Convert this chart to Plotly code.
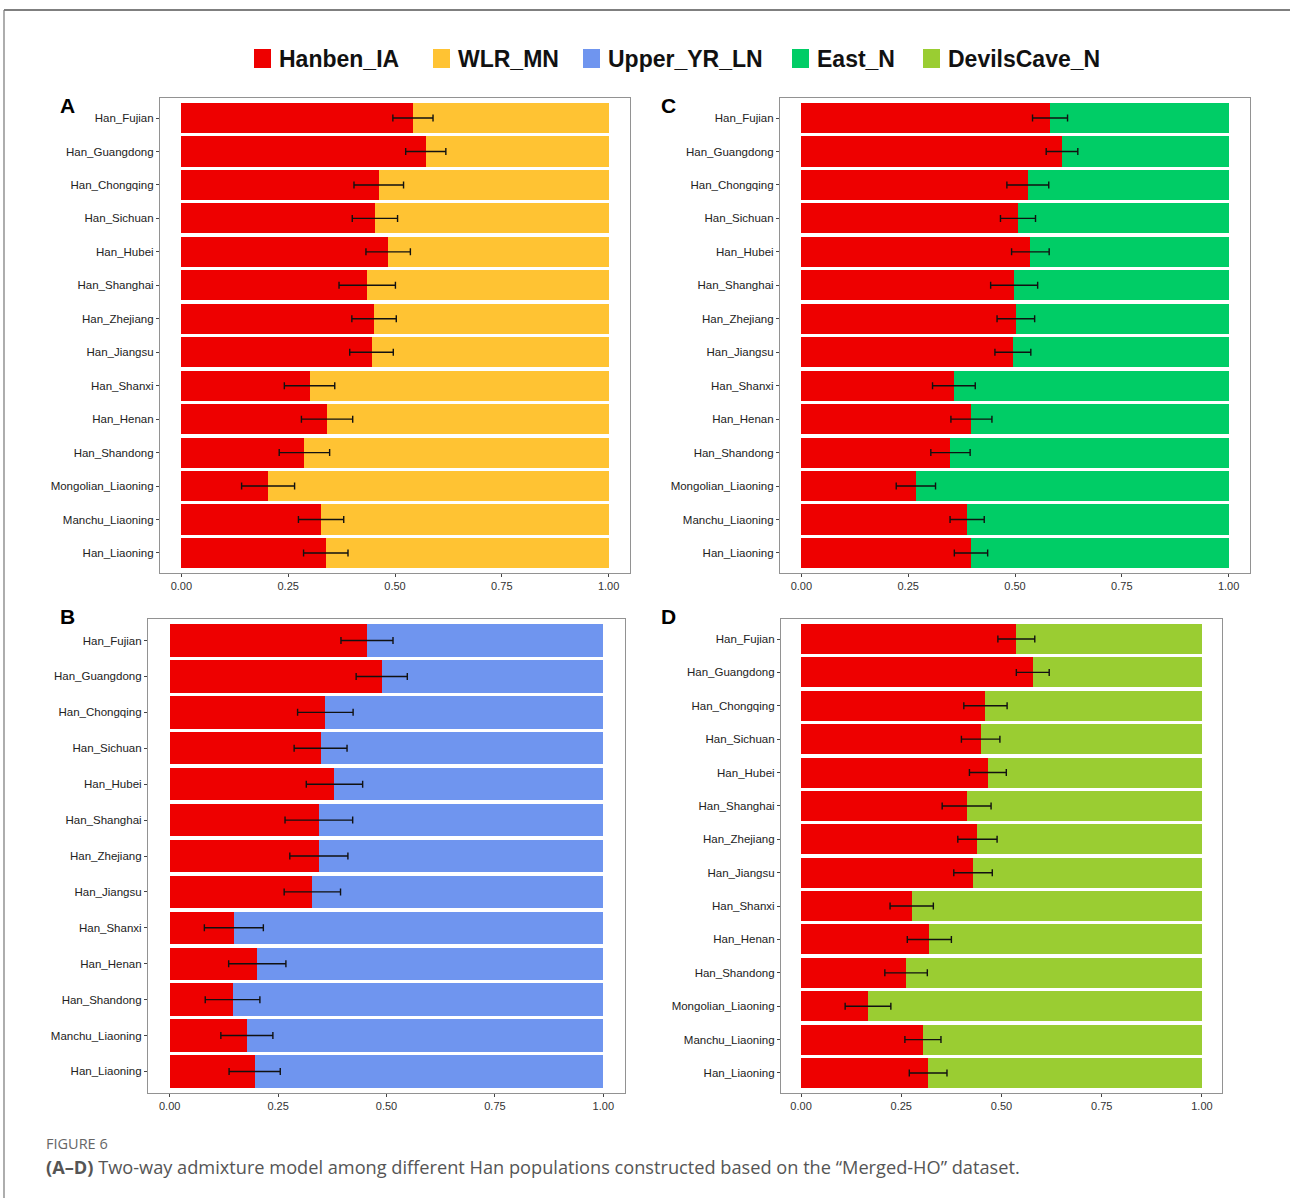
import plotly.graph_objects as go

# ---- data -------------------------------------------------------------
populations = [
    "Han_Fujian", "Han_Guangdong", "Han_Chongqing", "Han_Sichuan", "Han_Hubei",
    "Han_Shanghai", "Han_Zhejiang", "Han_Jiangsu", "Han_Shanxi", "Han_Henan",
    "Han_Shandong", "Mongolian_Liaoning", "Manchu_Liaoning", "Han_Liaoning",
]
populations_b = [p for p in populations if p != "Mongolian_Liaoning"]

# Hanben_IA proportion and standard error, model A: Hanben_IA + WLR_MN
hanben_a = [0.542, 0.572, 0.462, 0.453, 0.484, 0.435, 0.451, 0.445, 0.300, 0.341, 0.288, 0.203, 0.327, 0.338]
se_a = [0.047, 0.047, 0.058, 0.053, 0.052, 0.066, 0.052, 0.051, 0.059, 0.060, 0.059, 0.062, 0.053, 0.052]

# model B: Hanben_IA + Upper_YR_LN (no Mongolian_Liaoning)
hanben_b = [0.455, 0.489, 0.359, 0.348, 0.380, 0.344, 0.344, 0.329, 0.148, 0.202, 0.145, 0.178, 0.196]
se_b = [0.060, 0.059, 0.064, 0.061, 0.065, 0.078, 0.067, 0.065, 0.068, 0.066, 0.063, 0.060, 0.059]

# model C: Hanben_IA + East_N
hanben_c = [0.582, 0.610, 0.530, 0.507, 0.536, 0.498, 0.502, 0.495, 0.357, 0.398, 0.349, 0.268, 0.388, 0.397]
se_c = [0.041, 0.037, 0.049, 0.041, 0.044, 0.055, 0.044, 0.042, 0.050, 0.048, 0.046, 0.046, 0.040, 0.039]

# model D: Hanben_IA + DevilsCave_N
hanben_d = [0.537, 0.578, 0.460, 0.448, 0.466, 0.413, 0.440, 0.429, 0.276, 0.320, 0.262, 0.167, 0.304, 0.317]
se_d = [0.046, 0.041, 0.054, 0.048, 0.046, 0.061, 0.049, 0.048, 0.054, 0.055, 0.053, 0.057, 0.045, 0.047]

sources = ["Hanben_IA", "WLR_MN", "Upper_YR_LN", "East_N", "DevilsCave_N"]
source_colors = ["#EE0000", "#FFC333", "#6F95EF", "#00CD66", "#9ACD32"]

x_ticks = [0, 0.25, 0.5, 0.75, 1.0]
x_tick_labels = ["0.00", "0.25", "0.50", "0.75", "1.00"]

# ---- layout geometry (pixels) ----------------------------------------
W, H = 1290, 1198
FONT = "Liberation Sans, Arial, sans-serif"

panels = [
    # letter, categories, hanben, se, second source index, frame (l, t, r, b), letter pos
    ("A", populations, hanben_a, se_a, 1, (160, 98, 630, 573), (67, 106)),
    ("B", populations_b, hanben_b, se_b, 2, (148, 619, 625, 1093), (67, 616)),
    ("C", populations, hanben_c, se_c, 3, (780, 98, 1250, 573), (668, 106)),
    ("D", populations, hanben_d, se_d, 4, (781, 619, 1222, 1093), (668, 616)),
]


def px(x):
    return x / W


def py(y):
    return 1 - y / H


fig = go.Figure()
annotations = []
shapes = []

for i, (letter, cats, vals, errs, src, frame, lpos) in enumerate(panels, start=1):
    xa, ya = f"x{i}", f"y{i}"
    fig.add_trace(go.Bar(
        x=vals, y=cats, orientation="h", name=sources[0],
        marker=dict(color=source_colors[0], line=dict(width=0)),
        xaxis=xa, yaxis=ya, showlegend=False,
    ))
    fig.add_trace(go.Bar(
        x=[1 - v for v in vals], y=cats, orientation="h", name=sources[src],
        marker=dict(color=source_colors[src], line=dict(width=0)),
        xaxis=xa, yaxis=ya, showlegend=False,
    ))
    fig.add_trace(go.Scatter(
        x=vals, y=cats, mode="markers",
        marker=dict(size=1, color="rgba(0,0,0,0)"),
        error_x=dict(type="data", array=errs, symmetric=True,
                     color="#111111", thickness=1.4, width=3.5),
        xaxis=xa, yaxis=ya, showlegend=False, hoverinfo="skip",
    ))

    l, t, r, b = frame
    n = len(cats)
    fig.layout[f"xaxis{i}"] = dict(
        domain=[px(l), px(r)], anchor=ya, range=[-0.05, 1.05],
        tickvals=x_ticks, ticktext=x_tick_labels,
        ticks="outside", ticklen=3, tickwidth=1, tickcolor="#444",
        showline=True, mirror=True, linecolor="#929292", linewidth=1.2,
        showgrid=False, zeroline=False,
        tickfont=dict(family=FONT, size=11, color="#333333"),
        fixedrange=True,
    )
    fig.layout[f"yaxis{i}"] = dict(
        domain=[py(b), py(t)], anchor=xa, type="category",
        categoryorder="array", categoryarray=cats,
        range=[n - 0.4, -0.6],
        ticks="outside", ticklen=3, tickwidth=1, tickcolor="#444",
        showline=True, mirror=True, linecolor="#929292", linewidth=1.2,
        showgrid=False, zeroline=False,
        tickfont=dict(family=FONT, size=11.5, color="#222222"),
        fixedrange=True,
    )
    annotations.append(dict(
        text=f"<b>{letter}</b>", x=px(lpos[0]), y=py(lpos[1]),
        xref="paper", yref="paper", xanchor="center", yanchor="middle",
        showarrow=False, font=dict(family=FONT, size=21, color="#000"),
    ))

# ---- legend keys along the top ---------------------------------------
legend_key_x = [254, 433, 583, 792, 923]
for name, color, kx in zip(sources, source_colors, legend_key_x):
    shapes.append(dict(
        type="rect", xref="paper", yref="paper",
        x0=px(kx), x1=px(kx + 17), y0=py(68), y1=py(49),
        fillcolor=color, line=dict(width=0),
    ))
    annotations.append(dict(
        text=f"<b>{name}</b>", x=px(kx + 23), y=py(58.5),
        xref="paper", yref="paper", xanchor="left", yanchor="middle",
        showarrow=False, font=dict(family=FONT, size=23, color="#111"),
    ))

# ---- outer frame and caption ------------------------------------------
shapes.append(dict(type="line", xref="paper", yref="paper",
                   x0=px(4), x1=1, y0=py(10), y1=py(10),
                   line=dict(color="#555", width=1.5)))
shapes.append(dict(type="line", xref="paper", yref="paper",
                   x0=px(4), x1=px(4), y0=py(10), y1=0,
                   line=dict(color="#777", width=1.2)))

annotations.append(dict(
    text="FIGURE 6", x=px(44), y=py(1143), xref="paper", yref="paper",
    xanchor="left", yanchor="middle", showarrow=False,
    font=dict(family="Open Sans, sans-serif", size=14.5, color="#666"),
))
annotations.append(dict(
    text="<b>(A\u2013D)</b> Two-way admixture model among different Han populations "
         "constructed based on the \u201cMerged-HO\u201d dataset.",
    x=px(44), y=py(1167), xref="paper", yref="paper",
    xanchor="left", yanchor="middle", showarrow=False,
    font=dict(family="Open Sans, sans-serif", size=18.2, color="#555"),
))

fig.update_layout(
    width=W, height=H, margin=dict(l=0, r=0, t=0, b=0),
    paper_bgcolor="white", plot_bgcolor="white",
    barmode="stack", bargap=0.1,
    showlegend=False,
    annotations=annotations, shapes=shapes,
)

fig.write_html("out.html")
